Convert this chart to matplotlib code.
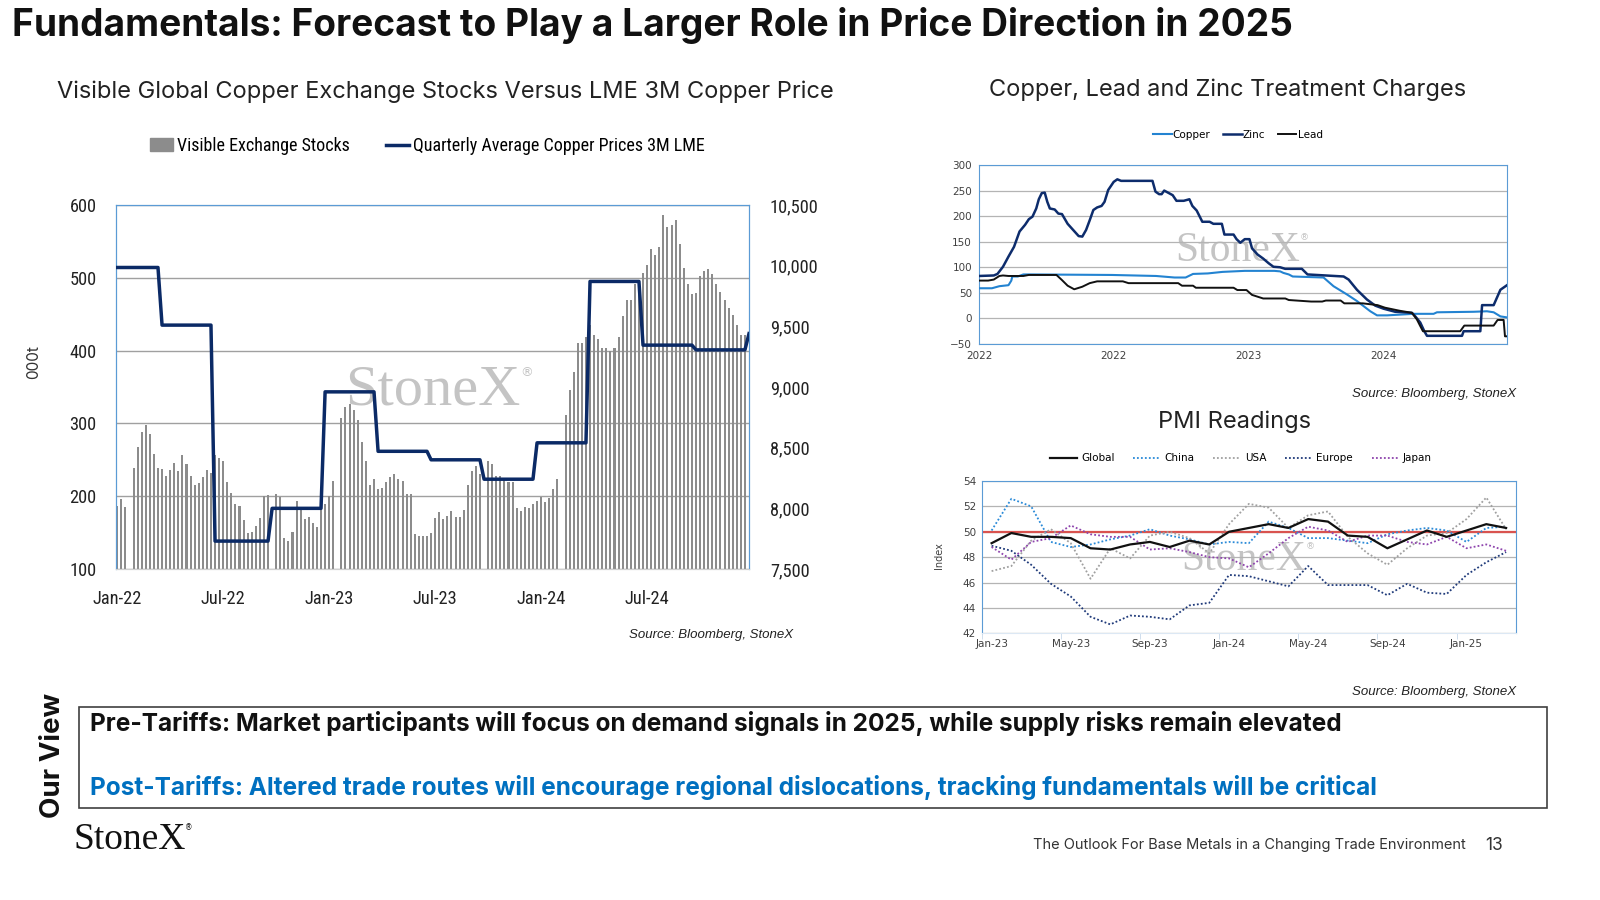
import numpy as np
import pandas as pd
import matplotlib
matplotlib.use('Agg')
import matplotlib.pyplot as plt
from matplotlib import font_manager
from matplotlib.patches import Rectangle, Patch
from matplotlib.lines import Line2D
from matplotlib.ticker import FuncFormatter

# ---------------- data ----------------
# weekly visible exchange stocks (000t), nan = holiday week with no print
stock_start = '2022-01-14'
stocks_kt = [
    187, 196, 185, np.nan, 239, 267, 288, 298, 286, 258,
    239, 237, 228, 236, 246, 234, 257, 244, 228, 215,
    218, 226, 236, 232, 256, 253, 249, 220, 204, 189,
    187, 167, 149, 151, 159, 170, 200, 202, np.nan, 203,
    199, 143, 138, 151, 193, 182, 169, 172, 163, 158,
    189, 189, 200, 221, np.nan, 307, 322, 327, 319, 305,
    274, 249, 216, 223, 210, 211, 220, 227, 231, 223,
    221, 203, 203, 148, 146, 146, 145, 149, 170, 178,
    168, 173, 180, 172, 172, 181, 216, 234, 242, 230,
    np.nan, 249, 244, 228, 228, 223, 220, 219, 184, 179,
    185, 184, 189, 193, 199, 192, 197, 210, 223, np.nan,
    311, 346, 371, 410, 410, 419, 435, 421, 416, 403,
    404, 400, 404, 418, 448, 470, 470, 492, 495, 507,
    517, 539, 532, 542, 586, 570, 573, 579, 547, 514,
    491, 478, 479, 502, 510, 512, 505, 492, 481, 469,
    458, 449, 435, 421, 422,
]

# quarterly average LME 3M copper price (USD/t)
price_quarters = ['2022Q1', '2022Q2', '2022Q3', '2022Q4', '2023Q1', '2023Q2',
                  '2023Q3', '2023Q4', '2024Q1', '2024Q2', '2024Q3', '2024Q4', '2025Q1']
price_avg = [9985, 9510, 7730, 8000, 8960, 8470, 8400, 8240, 8540, 9870, 9345, 9306, 9440]

# treatment charges (USD/t), (time, value) pairs; time in axis units
tc_labels = ['2022', '2022', '2023', '2024']
tc_copper = [(0, 59), (0.096, 59), (0.151, 63), (0.219, 65), (0.24, 74), (0.247, 82),
             (0.288, 82), (0.329, 86), (0.384, 86), (0.986, 85), (1.315, 83), (1.452, 80),
             (1.534, 80), (1.589, 87), (1.699, 88), (1.808, 91), (1.973, 93), (2.192, 93),
             (2.236, 92), (2.26, 89), (2.30, 86), (2.329, 82), (2.558, 80), (2.632, 63),
             (2.731, 47), (2.806, 34), (2.905, 14), (2.955, 6), (3.03, 6), (3.227, 9),
             (3.375, 9), (3.40, 12), (3.672, 13), (3.771, 14), (3.821, 12), (3.871, 4),
             (3.92, 2)]
tc_zinc = [(0, 83), (0.11, 84), (0.137, 87), (0.178, 101), (0.219, 121), (0.26, 140),
           (0.301, 170), (0.342, 183), (0.37, 194), (0.397, 199), (0.425, 215), (0.444, 233),
           (0.466, 245), (0.488, 246), (0.507, 228), (0.526, 215), (0.562, 213), (0.589, 205),
           (0.616, 204), (0.658, 185), (0.699, 173), (0.74, 161), (0.767, 160), (0.795, 173),
           (0.822, 192), (0.849, 212), (0.877, 217), (0.91, 220), (0.932, 228), (0.959, 251),
           (1.0, 267), (1.027, 272), (1.055, 269), (1.288, 269), (1.31, 248), (1.337, 243),
           (1.356, 243), (1.375, 250), (1.403, 246), (1.438, 241), (1.466, 230), (1.52, 230),
           (1.562, 233), (1.584, 220), (1.616, 211), (1.658, 189), (1.712, 189), (1.74, 185),
           (1.803, 185), (1.822, 164), (1.89, 164), (1.912, 155), (1.94, 148), (1.973, 155),
           (2.008, 155), (2.027, 137), (2.068, 125), (2.11, 117), (2.15, 108), (2.186, 101),
           (2.236, 100), (2.273, 97), (2.397, 97), (2.439, 86), (2.707, 82), (2.744, 76),
           (2.806, 56), (2.88, 37), (2.942, 25), (3.004, 19), (3.09, 13), (3.214, 11),
           (3.239, 4), (3.276, -8), (3.306, -25), (3.326, -34), (3.586, -34), (3.598, -25),
           (3.722, -25), (3.735, 26), (3.821, 26), (3.871, 56), (3.92, 65)]
tc_lead = [(0, 74), (0.068, 74), (0.11, 76), (0.151, 83), (0.178, 84), (0.219, 83),
           (0.329, 83), (0.37, 85), (0.575, 85), (0.616, 75), (0.658, 64), (0.707, 57),
           (0.767, 62), (0.822, 69), (0.877, 72.5), (1.068, 72.5), (1.11, 69), (1.479, 69),
           (1.507, 64), (1.589, 64), (1.61, 60), (1.89, 60), (1.918, 55.5), (1.986, 55.5),
           (2.027, 46), (2.11, 39), (2.274, 39), (2.30, 36), (2.466, 33), (2.548, 33),
           (2.575, 35), (2.685, 35), (2.712, 29.5), (2.849, 29.5), (2.959, 26), (3.014, 21),
           (3.123, 15), (3.214, 11), (3.251, -2), (3.276, -15), (3.296, -25), (3.573, -25),
           (3.603, -14), (3.821, -14), (3.85, -3), (3.895, -3), (3.905, -35), (3.92, -35)]

# manufacturing PMI, monthly from Jan-23
pmi_start = '2023-01-01'
pmi_global = [49.1, 49.9, 49.6, 49.6, 49.5, 48.7, 48.6, 49.0, 49.2, 48.8, 49.3, 49.0, 50.0, 50.3,
              50.6, 50.3, 51.0, 50.8, 49.7, 49.6, 48.7, 49.4, 50.1, 49.6, 50.1, 50.6, 50.3]
pmi_china = [50.1, 52.6, 52.0, 49.2, 48.8, 49.0, 49.4, 49.7, 50.2, 49.7, 49.4, 49.0, 49.2, 49.1,
             50.8, 50.3, 49.5, 49.5, 49.3, 49.1, 49.8, 50.1, 50.3, 50.1, 49.2, 50.3, 50.4]
pmi_usa = [46.9, 47.3, 49.3, 50.2, 49.1, 46.3, 48.7, 47.9, 49.7, 50.0, 49.5, 48.3, 50.6, 52.2,
           51.9, 50.3, 51.3, 51.6, 49.6, 48.3, 47.4, 48.7, 49.7, 49.9, 51.0, 52.7, 50.2]
pmi_europe = [48.9, 48.5, 47.4, 45.9, 44.9, 43.3, 42.7, 43.4, 43.3, 43.1, 44.2, 44.4, 46.6, 46.5,
              46.1, 45.7, 47.3, 45.8, 45.8, 45.8, 45.0, 45.9, 45.2, 45.1, 46.6, 47.6, 48.4]
pmi_japan = [48.8, 47.8, 49.2, 49.5, 50.5, 49.8, 49.6, 49.6, 48.6, 48.7, 48.4, 48.0, 47.9, 47.2,
             48.3, 49.5, 50.4, 50.1, 49.2, 49.7, 49.7, 49.2, 49.0, 49.6, 48.7, 49.0, 48.5]

# ---------------- fonts / colours ----------------
installed = {f.name for f in font_manager.fontManager.ttflist}
SANS = ['Inter', 'DejaVu Sans']
narrow_name = next((n for n in ['Liberation Sans Narrow', 'Roboto Condensed',
                                'Open Sans Condensed', 'DejaVu Sans Condensed']
                    if n in installed), None)
if narrow_name:
    NARROW, LEG_SIZE, TICK_SIZE = [narrow_name, 'DejaVu Sans'], 13, 13.2
else:
    NARROW, LEG_SIZE, TICK_SIZE = ['Roboto', 'DejaVu Sans'], 11.5, 12
SMALL = ['DejaVu Sans']
SERIF = ['Liberation Serif', 'DejaVu Serif']
ITAL = ['Liberation Sans', 'DejaVu Sans']

NAVY = '#0b2a66'
FRAME = '#5b9bd5'
GRID = '#b4b4b4'

W, H = 1600, 900
fig = plt.figure(figsize=(16, 9), dpi=100)


def box(l, t, r, b):
    # pixel box -> figure fraction rect
    return [l / W, 1 - b / H, (r - l) / W, (b - t) / H]


def watermark(ax, x, y, size):
    t = ax.text(x, y, 'StoneX', transform=ax.transAxes, ha='center', va='center',
                fontsize=size, color='#c4c4c4', family=SERIF, zorder=1.5)
    ax.annotate('®', xy=(1.0, 0.85), xycoords=t, fontsize=size * 0.22, color='#c4c4c4',
                va='center', ha='left', zorder=1.5)


# ---------------- left: stocks vs price ----------------
stock_dates = pd.date_range(stock_start, periods=len(stocks_kt), freq='7D')
price_dates = pd.date_range(stock_start, periods=len(stocks_kt) + 1, freq='7D')
qmap = dict(zip(price_quarters, price_avg))
price_weekly = [qmap[str(q)] for q in price_dates.to_period('Q')]

ax1 = fig.add_axes(box(116, 205, 749, 569))
xs = np.arange(len(stocks_kt))
ax1.bar(xs, np.nan_to_num(stocks_kt), width=0.5, color='#8c8c8c', zorder=2)
ax1.set_ylim(100, 600)
ax1.set_xlim(-0.3, len(stocks_kt))
ax1.set_yticks(range(100, 601, 100))
ax1.grid(axis='y', color='#a0a0a0', lw=1.0, zorder=1)
ax1.set_axisbelow(True)
tick_idx = list(range(0, len(stocks_kt), 26))
ax1.set_xticks(tick_idx)
ax1.set_xticklabels([stock_dates[i].strftime('%b-%y') for i in tick_idx])
ax1.tick_params(length=0, labelsize=TICK_SIZE, colors='#222222')
ax1.tick_params(axis='y', pad=14)
ax1.tick_params(axis='x', pad=15)
for lab in ax1.get_xticklabels() + ax1.get_yticklabels():
    lab.set_family(NARROW)
watermark(ax1, 0.50, 0.49, 42)

ax2 = ax1.twinx()
ax2.plot(np.arange(len(price_weekly)), price_weekly, color=NAVY, lw=2.5, zorder=3)
ax2.set_ylim(7500, 10500)
ax2.set_yticks(range(7500, 10501, 500))
ax2.yaxis.set_major_formatter(FuncFormatter(lambda v, p: f'{v:,.0f}'))
ax2.tick_params(length=0, labelsize=TICK_SIZE, colors='#222222', pad=15)
for lab in ax2.get_yticklabels():
    lab.set_family(NARROW)
for a in (ax1, ax2):
    for s in ('left', 'right', 'top'):
        a.spines[s].set_color(FRAME)
    a.spines['bottom'].set_color('#d0d0d0')

fig.text(34 / W, 1 - 362 / H, '000t', rotation=90, ha='center', va='center',
         fontsize=11, family=SANS, color='#333333')
fig.legend(handles=[Patch(color='#8c8c8c'), Line2D([], [], color=NAVY, lw=2.5)],
           labels=['Visible Exchange Stocks', 'Quarterly Average Copper Prices 3M LME'],
           loc='center', bbox_to_anchor=(427 / W, 1 - 146 / H), ncol=2, frameon=False,
           prop={'family': NARROW, 'size': LEG_SIZE}, handlelength=1.3, handletextpad=0.2,
           columnspacing=2.0)
fig.text(445 / W, 1 - 92 / H, 'Visible Global Copper Exchange Stocks Versus LME 3M Copper Price',
         ha='center', va='center', fontsize=17, family=SANS, color='#222222')
fig.text(793 / W, 1 - 635 / H, 'Source: Bloomberg, StoneX', ha='right', va='center',
         fontsize=9.5, style='italic', family=ITAL, color='#222222')

# ---------------- top right: treatment charges ----------------
ax3 = fig.add_axes(box(979, 165, 1507, 344))
for series, col, lw, name in ((tc_copper, '#2383d1', 1.5, 'Copper'),
                              (tc_zinc, '#0d2c6c', 1.8, 'Zinc'),
                              (tc_lead, '#111111', 1.4, 'Lead')):
    t, v = zip(*series)
    ax3.plot(t, v, color=col, lw=lw, label=name, zorder=3)
ax3.set_ylim(-50, 300)
ax3.set_yticks(range(-50, 301, 50))
ax3.set_xlim(0, 3.92)
ax3.set_xticks(range(len(tc_labels)))
ax3.set_xticklabels(tc_labels)
ax3.grid(axis='y', color=GRID, lw=0.9, zorder=1)
ax3.tick_params(length=0, labelsize=7.5, colors='#404040', pad=5)
for s in ax3.spines.values():
    s.set_color(FRAME)
watermark(ax3, 0.49, 0.52, 30)
ax3.legend(loc='center', bbox_to_anchor=(0.49, 1.17), ncol=3, frameon=False,
           prop={'family': SMALL, 'size': 7.5}, handlelength=1.8, handletextpad=0.1,
           columnspacing=1.2)
fig.text(1228 / W, 1 - 90 / H, 'Copper, Lead and Zinc Treatment Charges',
         ha='center', va='center', fontsize=17, family=SANS, color='#222222')
fig.text(1516 / W, 1 - 394 / H, 'Source: Bloomberg, StoneX', ha='right', va='center',
         fontsize=9.5, style='italic', family=ITAL, color='#222222')

# ---------------- bottom right: PMI ----------------
pmi_months = pd.date_range(pmi_start, periods=len(pmi_global), freq='MS')
ax4 = fig.add_axes(box(981.7, 481, 1516, 633.3))
mi = np.arange(len(pmi_global))
ax4.axhline(50, color='#d9534f', lw=1.6, zorder=2)
ax4.plot(mi, pmi_china, color='#2a8ad8', lw=1.3, ls=(0, (1, 1.2)), label='China', zorder=3)
ax4.plot(mi, pmi_usa, color='#a0a0a0', lw=1.3, ls=(0, (1, 1.2)), label='USA', zorder=3)
ax4.plot(mi, pmi_europe, color='#1f3a7a', lw=1.3, ls=(0, (1, 1.2)), label='Europe', zorder=3)
ax4.plot(mi, pmi_japan, color='#8e44ad', lw=1.3, ls=(0, (1, 1.2)), label='Japan', zorder=3)
ax4.plot(mi, pmi_global, color='#111111', lw=1.6, label='Global', zorder=4)
ax4.set_ylim(42, 54)
ax4.set_yticks(range(42, 55, 2))
ax4.set_xlim(-0.5, len(pmi_global) - 0.5)
ax4.set_xticks(mi[::4])
ax4.set_xticklabels([pmi_months[i].strftime('%b-%y') for i in mi[::4]])
ax4.set_xticks(np.arange(-0.5, len(pmi_global), 4), minor=True)
ax4.grid(axis='y', color=GRID, lw=0.9, zorder=1)
ax4.tick_params(length=0, labelsize=7.5, colors='#404040', pad=4)
ax4.tick_params(axis='x', which='minor', length=4, color='#c8d8ea')
for s in ax4.spines.values():
    s.set_color(FRAME)
ax4.spines['bottom'].set_color('#dce8f4')
watermark(ax4, 0.49, 0.48, 30)
h, l = ax4.get_legend_handles_labels()
order = [4, 0, 1, 2, 3]
ax4.legend([h[i] for i in order], [l[i] for i in order], loc='center',
           bbox_to_anchor=(0.485, 1.15), ncol=5, frameon=False,
           prop={'family': SMALL, 'size': 7.5}, handlelength=2.6, handletextpad=0.4,
           columnspacing=1.8)
fig.text(939 / W, 1 - 556 / H, 'Index', rotation=90, ha='center', va='center',
         fontsize=7, family=SMALL, color='#404040')
fig.text(1235 / W, 1 - 422 / H, 'PMI Readings', ha='center', va='center',
         fontsize=17, family=SANS, color='#222222')
fig.text(1516 / W, 1 - 692 / H, 'Source: Bloomberg, StoneX', ha='right', va='center',
         fontsize=9.5, style='italic', family=ITAL, color='#222222')

# ---------------- titles / commentary ----------------
fig.text(12 / W, 1 - 26 / H, 'Fundamentals: Forecast to Play a Larger Role in Price Direction in 2025',
         ha='left', va='center', fontsize=26.7, fontweight='bold', family=SANS, color='#111111')

fig.add_artist(Rectangle((79 / W, 1 - 808 / H), (1547 - 79) / W, (808 - 707) / H,
                         transform=fig.transFigure, fill=False, ec='#404040', lw=1.2))
fig.text(53 / W, 1 - 755 / H, 'Our View', rotation=90, ha='center', va='center',
         fontsize=20, fontweight='bold', family=SANS, color='#111111')
fig.text(90 / W, 1 - 724 / H,
         'Pre-Tariffs: Market participants will focus on demand signals in 2025, while supply risks remain elevated',
         ha='left', va='center', fontsize=17.6, fontweight='bold', family=SANS, color='#111111')
fig.text(90 / W, 1 - 788 / H,
         'Post-Tariffs: Altered trade routes will encourage regional dislocations, tracking fundamentals will be critical',
         ha='left', va='center', fontsize=17.6, fontweight='bold', family=SANS, color='#0070c0')

logo = fig.text(73 / W, 1 - 840 / H, 'StoneX', ha='left', va='center', fontsize=27,
                family=SERIF, color='#111111')
fig.add_artist(plt.Annotation('®', xy=(1.0, 0.85), xycoords=logo, fontsize=5.5,
                              color='#111111', va='center', ha='left'))
fig.text(1466 / W, 1 - 845 / H, 'The Outlook For Base Metals in a Changing Trade Environment',
         ha='right', va='center', fontsize=10.5, family=SANS, color='#333333')
fig.text(1494 / W, 1 - 845 / H, '13', ha='center', va='center', fontsize=12.5,
         family=SANS, color='#333333')

fig.savefig('out.png', dpi=100)
